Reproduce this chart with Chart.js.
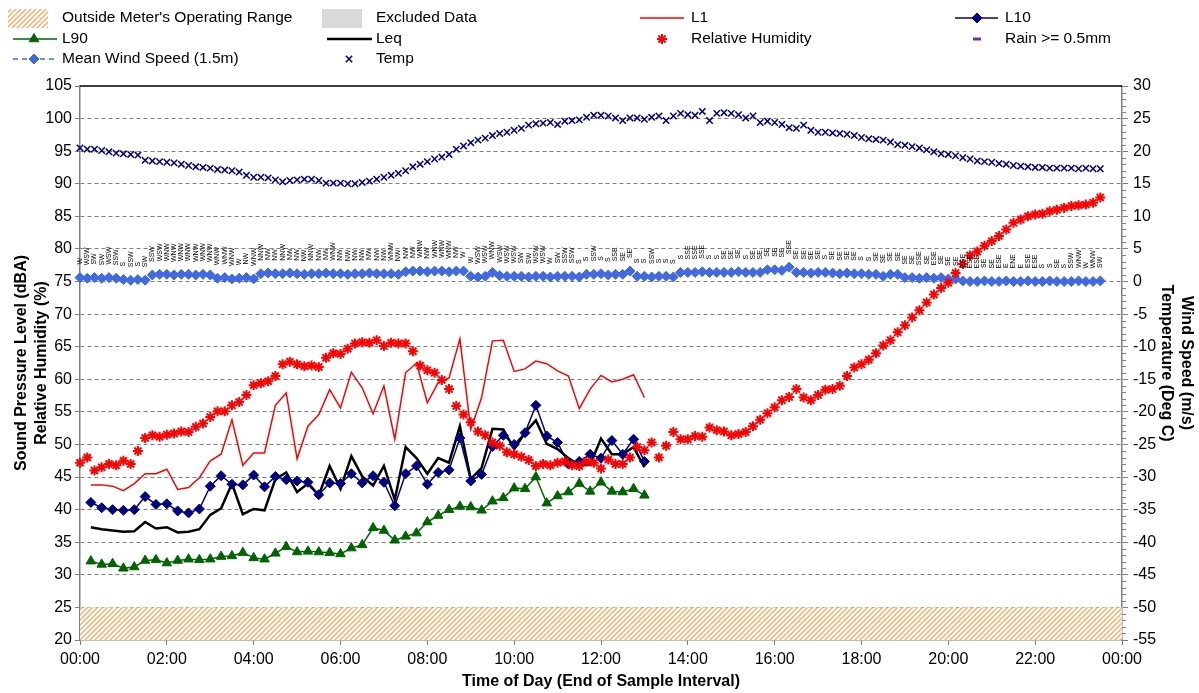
<!DOCTYPE html>
<html>
<head>
<meta charset="utf-8">
<script src="https://cdn.jsdelivr.net/npm/chart.js@4.4.1/dist/chart.umd.min.js"></script>
<style>
  html, body { margin: 0; padding: 0; background: #fff; }
  #wrap { width: 1199px; height: 693px; }
</style>
</head>
<body>
<div id="wrap"><canvas id="grafico" width="1199" height="693"></canvas></div>
<script>
// x axis is minutes since midnight
const timeTicks = ['00:00', '02:00', '04:00', '06:00', '08:00', '10:00', '12:00',
                   '14:00', '16:00', '18:00', '20:00', '22:00', '00:00'];

// noise levels, 15 min samples from 00:15 to 13:00 (dBA)
const noiseStart = 15, noiseStep = 15;
const l1 = [43.8, 43.8, 43.6, 42.9, 44.0, 45.5, 45.5, 46.2, 43.1, 43.4, 44.9, 47.5,
            48.5, 53.8, 46.8, 48.7, 48.7, 56.0, 57.9, 47.8, 52.8, 54.6, 58.4, 55.6,
            61.1, 58.7, 54.7, 59.0, 50.8, 61.0, 62.5, 56.4, 59.5, 60.2, 66.2, 52.3,
            57.2, 65.9, 66.0, 61.2, 61.6, 62.8, 62.4, 61.3, 60.5, 55.5, 58.5, 60.6,
            59.6, 60.0, 60.7, 57.2];
const l10 = [41.1, 40.3, 40.0, 39.9, 40.0, 42.0, 40.8, 40.9, 39.8, 39.5, 40.1, 43.6,
             45.2, 43.9, 43.8, 45.3, 43.5, 45.1, 44.6, 44.4, 44.2, 42.3, 44.1, 44.0,
             45.5, 44.1, 45.2, 44.2, 40.6, 45.5, 46.7, 43.9, 45.7, 46.1, 51.0, 44.4,
             45.4, 49.7, 51.4, 50.0, 51.8, 56.0, 51.3, 50.3, 47.0, 47.4, 48.5, 47.9,
             50.6, 48.5, 50.8, 47.4];
const leq = [37.3, 37.0, 36.8, 36.6, 36.7, 38.1, 37.1, 37.3, 36.5, 36.6, 37.0, 39.2,
             40.2, 44.0, 39.3, 40.1, 39.9, 44.7, 45.7, 42.7, 44.0, 42.2, 46.7, 43.2,
             48.2, 45.1, 43.7, 46.7, 41.5, 49.6, 47.9, 45.5, 47.9, 47.2, 52.8, 44.7,
             46.4, 52.4, 52.3, 49.3, 51.8, 53.7, 50.1, 49.3, 47.9, 46.8, 46.9, 50.9,
             48.5, 48.5, 49.6, 46.5];
const l90 = [32.1, 31.6, 31.7, 31.0, 31.2, 32.2, 32.3, 31.8, 32.2, 32.4, 32.3, 32.4,
             32.8, 32.9, 33.4, 32.6, 32.4, 33.3, 34.3, 33.5, 33.6, 33.5, 33.4, 33.2,
             34.1, 34.6, 37.2, 36.8, 35.3, 35.9, 36.4, 38.1, 39.1, 40.0, 40.5, 40.4,
             39.9, 41.3, 41.8, 43.3, 43.2, 45.0, 41.0, 42.1, 42.7, 44.0, 42.8, 44.2,
             42.8, 42.7, 43.2, 42.2];

// weather, 10 min samples from 00:00 to 23:30
const envStart = 0, envStep = 10;
const humidity = [
  47.2, 48.0, 46.0, 46.5, 47.0, 46.8, 47.5, 47.0, 49.0, 51.0, 51.4, 51.2,
  51.5, 51.7, 52.0, 51.9, 52.7, 53.2, 54.2, 55.1, 55.1, 56.0, 56.5, 57.6,
  59.1, 59.4, 59.7, 60.5, 62.3, 62.7, 62.3, 62.0, 62.1, 61.9, 63.3, 64.0,
  63.9, 64.7, 65.5, 65.7, 65.6, 66.0, 65.1, 65.6, 65.5, 65.5, 64.3, 62.1,
  61.4, 61.0, 59.9, 58.5, 55.9, 54.6, 53.4, 52.0, 51.4, 50.3, 49.8, 48.8,
  48.5, 48.1, 47.6, 46.7, 47.0, 46.8, 47.2, 47.4, 46.8, 46.7, 47.4, 47.2,
  46.3, 47.7, 47.0, 47.0, 48.0, 49.6, 49.1, 50.3, 48.0, 49.8, 51.9, 50.8,
  50.8, 51.3, 51.2, 52.6, 52.2, 52.0, 51.4, 51.6, 51.9, 52.8, 53.8, 54.8,
  55.7, 56.8, 57.3, 58.5, 57.2, 56.8, 57.6, 58.4, 58.5, 59.0, 60.5, 61.8,
  62.3, 63.0, 64.0, 65.2, 66.0, 67.2, 68.3, 69.5, 70.6, 71.8, 73.0, 74.0,
  74.8, 76.3, 77.7, 79.0, 79.6, 80.5, 81.2, 82.0, 83.0, 84.0, 84.5, 85.0,
  85.3, 85.4, 85.8, 86.0, 86.3, 86.6, 86.7, 86.8, 87.1, 87.9];
const temperature = [
  20.5, 20.3, 20.3, 20.1, 19.9, 19.7, 19.6, 19.5, 19.4, 18.6, 18.5, 18.4,
  18.3, 18.2, 18.0, 17.8, 17.6, 17.5, 17.4, 17.2, 17.1, 17.0, 16.8, 16.3,
  16.0, 16.0, 15.9, 15.6, 15.3, 15.5, 15.6, 15.7, 15.7, 15.5, 15.1, 15.1,
  15.1, 15.0, 15.0, 15.2, 15.4, 15.7, 16.0, 16.3, 16.6, 17.0, 17.6, 18.0,
  18.4, 18.8, 19.1, 19.5, 20.3, 20.8, 21.3, 21.7, 22.0, 22.4, 22.7, 22.9,
  23.2, 23.5, 24.0, 24.2, 24.3, 24.4, 24.1, 24.6, 24.7, 24.8, 25.2, 25.5,
  25.5, 25.4, 25.1, 24.7, 25.1, 25.1, 24.9, 25.2, 25.4, 24.7, 25.4, 25.8,
  25.6, 25.5, 26.1, 24.7, 25.8, 25.9, 25.8, 25.6, 25.1, 25.4, 24.4, 24.6,
  24.4, 24.1, 23.6, 23.5, 24.0, 23.2, 22.9, 22.9, 22.8, 22.7, 22.6, 22.4,
  22.1, 21.9, 21.8, 21.7, 21.4, 21.0, 20.9, 20.7, 20.5, 20.2, 19.9, 19.6,
  19.5, 19.3, 19.0, 18.8, 18.5, 18.4, 18.3, 18.1, 18.0, 17.8, 17.7, 17.6,
  17.5, 17.5, 17.4, 17.4, 17.4, 17.4, 17.3, 17.4, 17.3, 17.3];
const windSpeed = [
  0.6, 0.5, 0.6, 0.5, 0.6, 0.5, 0.3, 0.2, 0.3, 0.2, 1.0, 1.1,
  1.1, 1.0, 1.1, 1.1, 1.0, 1.1, 1.0, 0.5, 0.6, 0.4, 0.5, 0.6,
  0.4, 1.2, 1.3, 1.2, 1.2, 1.3, 1.2, 1.1, 1.2, 1.2, 1.3, 1.2,
  1.2, 1.1, 1.2, 1.2, 1.3, 1.2, 1.2, 1.2, 1.1, 1.5, 1.6, 1.6,
  1.5, 1.6, 1.6, 1.5, 1.6, 1.6, 0.8, 0.7, 0.8, 1.4, 0.9, 0.8,
  0.8, 0.8, 0.7, 0.8, 0.8, 0.7, 0.8, 0.8, 0.8, 0.7, 1.1, 1.1,
  1.2, 1.0, 1.1, 1.1, 1.6, 0.8, 0.8, 0.7, 0.8, 0.8, 0.7, 1.4,
  1.4, 1.4, 1.5, 1.4, 1.4, 1.4, 1.4, 1.5, 1.4, 1.4, 1.4, 1.8,
  1.8, 1.7, 2.2, 1.4, 1.4, 1.3, 1.4, 1.4, 1.3, 1.2, 1.3, 1.2,
  1.2, 1.1, 1.1, 0.8, 1.1, 1.1, 0.6, 0.6, 0.5, 0.6, 0.5, 0.6,
  0.4, 0.4, 0.1, 0.0, 0.0, 0.1, 0.0, 0.0, 0.1, 0.0, 0.0, 0.1,
  0.0, 0.0, 0.1, 0.0, 0.0, 0.0, 0.1, 0.0, 0.0, 0.1];
const windDir = [
  'W', 'WSW', 'SW', 'SW', 'WSW', 'SSW', 'S', 'SSW', 'S', 'SW', 'SSW', 'WSW',
  'WNW', 'WNW', 'WNW', 'WNW', 'WNW', 'WNW', 'WNW', 'WNW', 'WNW', 'WNW', 'W', 'NW',
  'WNW', 'NNW', 'NW', 'NW', 'NNW', 'NW', 'NW', 'NW', 'NNW', 'NW', 'NW', 'WNW',
  'NW', 'NW', 'NW', 'NW', 'NW', 'NW', 'NW', 'WNW', 'NW', 'NW', 'NW', 'WNW',
  'NW', 'WNW', 'WNW', 'WNW', 'NW', 'W', 'W', 'WSW', 'WSW', 'WNW', 'WSW', 'WSW',
  'WSW', 'SW', 'SW', 'WSW', 'WSW', 'W', 'SW', 'SSW', 'SSW', 'S', 'S', 'SSW',
  'S', 'S', 'SSE', 'SE', 'SE', 'S', 'S', 'SSW', 'S', 'S', 'S', 'S',
  'SSE', 'SSE', 'SSE', 'S', 'S', 'SE', 'SE', 'SE', 'S', 'SE', 'SE', 'SE',
  'SE', 'SE', 'SSE', 'SE', 'SE', 'SE', 'SE', 'S', 'SE', 'SE', 'SE', 'SE',
  'S', 'S', 'SE', 'SE', 'SE', 'SE', 'SE', 'SE', 'SSE', 'SE', 'ESE', 'SE',
  'SE', 'SE', 'ESE', 'ESE', 'ESE', 'SE', 'SE', 'ESE', 'E', 'ENE', 'E', 'ESE',
  'ESE', 'S', 'S', 'SE', 'S', 'SSW', 'WNW', 'W', 'WNW', 'SW'];

// lower limit of the meter
const meterFloor = 25;

const FONT = "'Liberation Sans', Arial, sans-serif";
Chart.defaults.font.family = FONT;
Chart.defaults.color = '#000';

const envPoints = arr => arr.map((v, i) => ({ x: envStart + i * envStep, y: v }));
const noisePoints = arr => arr.map((v, i) => ({ x: noiseStart + i * noiseStep, y: v }));

function makeHatch(ctx) {
    const c = document.createElement('canvas');
    c.width = 5; c.height = 5;
    const p = c.getContext('2d');
    p.fillStyle = '#fff';
    p.fillRect(0, 0, 5, 5);
    p.strokeStyle = '#F5A860';
    p.lineWidth = 1.3;
    p.beginPath();
    p.moveTo(-1, 6); p.lineTo(6, -1);
    p.moveTo(-1, 1); p.lineTo(1, -1);
    p.moveTo(4, 6); p.lineTo(6, 4);
    p.stroke();
    return ctx.createPattern(c, 'repeat');
}

const ctx = document.getElementById('grafico').getContext('2d');
const hatch = makeHatch(ctx);

// orange band below the meter's range
const bandPlugin = {
    id: 'band',
    beforeDatasetsDraw(chart) {
        const { ctx, chartArea } = chart;
        const y = chart.scales.y;
        const top = y.getPixelForValue(meterFloor);
        const bottom = y.getPixelForValue(y.min);
        ctx.save();
        ctx.fillStyle = hatch;
        ctx.fillRect(chartArea.left, top, chartArea.right - chartArea.left, bottom - top);
        ctx.restore();
    }
};

// wind direction text over each wind point + frame details
const extrasPlugin = {
    id: 'extras',
    afterDatasetsDraw(chart) {
        const { ctx, chartArea } = chart;
        const meta = chart.getDatasetMeta(2);
        ctx.save();
        ctx.font = '7px ' + FONT;
        ctx.fillStyle = '#000';
        ctx.textAlign = 'left';
        ctx.textBaseline = 'middle';
        meta.data.forEach((pt, i) => {
            ctx.save();
            ctx.translate(pt.x, pt.y - 13);
            ctx.rotate(-Math.PI / 2);
            ctx.fillText(windDir[i], 0, 0);
            ctx.restore();
        });
        ctx.restore();

        // top border
        ctx.save();
        ctx.strokeStyle = '#000';
        ctx.lineWidth = 1.5;
        ctx.beginPath();
        ctx.moveTo(chartArea.left, chartArea.top);
        ctx.lineTo(chartArea.right, chartArea.top);
        ctx.stroke();

        // minor ticks on right axis
        const s = chart.scales.y2;
        ctx.strokeStyle = '#808080';
        ctx.lineWidth = 1;
        ctx.beginPath();
        for (let v = s.min; v <= s.max; v++) {
            if (v % 5 === 0) continue;
            const py = Math.round(s.getPixelForValue(v)) + 0.5;
            ctx.moveTo(s.left, py);
            ctx.lineTo(s.left + 4, py);
        }
        ctx.stroke();
        ctx.restore();
    }
};

// legend laid out in four fixed columns
const legendPlugin = {
    id: 'legendGrid',
    afterDraw(chart) {
        const ctx = chart.ctx;
        const H = Chart.helpers;
        ctx.save();
        ctx.font = '15.5px ' + FONT;
        ctx.textBaseline = 'middle';
        ctx.textAlign = 'left';
        const text = (t, x, y) => { ctx.fillStyle = '#000'; ctx.fillText(t, x, y); };
        const seg = (x1, x2, y, color, w, dash) => {
            ctx.save();
            ctx.strokeStyle = color;
            ctx.lineWidth = w;
            ctx.setLineDash(dash || []);
            ctx.beginPath();
            ctx.moveTo(x1, y);
            ctx.lineTo(x2, y);
            ctx.stroke();
            ctx.restore();
        };
        const mark = (style, x, y, color, r, bw) => {
            ctx.save();
            ctx.fillStyle = color;
            ctx.strokeStyle = color;
            ctx.lineWidth = bw;
            H.drawPoint(ctx, { pointStyle: style, radius: r, borderWidth: bw, rotation: 0 }, x, y);
            ctx.restore();
        };

        const r1 = 18, r2 = 39, r3 = 59;
        ctx.fillStyle = hatch;
        ctx.fillRect(8, 9, 40, 19);
        text("Outside Meter's Operating Range", 62, r1);
        ctx.fillStyle = '#D9D9D9';
        ctx.fillRect(322, 9, 40, 19);
        text('Excluded Data', 376, r1);
        seg(640, 684, r1, '#FF0000', 1.5);
        text('L1', 691, r1);
        seg(955, 998, r1, '#000080', 1.5);
        mark('rectRot', 977, r1, '#000080', 5, 1);
        text('L10', 1005, r1);

        seg(13, 57, r2, '#006400', 1.5);
        mark('triangle', 34, r2, '#006400', 5.5, 1);
        text('L90', 62, r2);
        seg(327, 372, r2, '#000', 2.5);
        text('Leq', 376, r2);
        mark('star', 662, r2, '#FF0000', 5, 2);
        text('Relative Humidity', 691, r2);
        seg(973, 981, r2, '#7030A0', 3);
        text('Rain >= 0.5mm', 1005, r2);

        seg(13, 54, r3, '#4169E1', 1.5, [5, 4]);
        mark('rectRot', 34, r3, '#4169E1', 5, 1);
        text('Mean Wind Speed (1.5m)', 62, r3);
        mark('crossRot', 349, r3, '#000080', 4.5, 1.5);
        text('Temp', 376, r3);
        ctx.restore();
    }
};

new Chart(ctx, {
    type: 'line',
    data: {
        datasets: [
            {
                label: 'Temp',
                data: envPoints(temperature),
                yAxisID: 'y2',
                showLine: false,
                pointStyle: 'crossRot',
                pointRadius: 4.5,
                pointBorderWidth: 1.5,
                pointBorderColor: '#000080',
                borderColor: '#000080',
                clip: false
            },
            {
                label: 'Relative Humidity',
                data: envPoints(humidity),
                yAxisID: 'y',
                showLine: false,
                pointStyle: 'star',
                pointRadius: 5,
                pointBorderWidth: 2,
                pointBorderColor: '#FF0000',
                borderColor: '#FF0000',
                clip: false
            },
            {
                label: 'Mean Wind Speed (1.5m)',
                data: envPoints(windSpeed),
                yAxisID: 'y2',
                borderColor: '#4169E1',
                borderWidth: 1.5,
                borderDash: [5, 4],
                pointStyle: 'rectRot',
                pointRadius: 5,
                pointBorderWidth: 1,
                pointBackgroundColor: '#4169E1',
                pointBorderColor: '#4169E1',
                clip: false
            },
            {
                label: 'L10',
                data: noisePoints(l10),
                yAxisID: 'y',
                borderColor: '#000080',
                borderWidth: 1.5,
                pointStyle: 'rectRot',
                pointRadius: 5,
                pointBorderWidth: 1,
                pointBackgroundColor: '#000080',
                pointBorderColor: '#000080'
            },
            {
                label: 'Leq',
                data: noisePoints(leq),
                yAxisID: 'y',
                borderColor: '#000',
                borderWidth: 2.5,
                pointRadius: 0
            },
            {
                label: 'L90',
                data: noisePoints(l90),
                yAxisID: 'y',
                borderColor: '#006400',
                borderWidth: 1.5,
                pointStyle: 'triangle',
                pointRadius: 5.5,
                pointBorderWidth: 1,
                pointBackgroundColor: '#006400',
                pointBorderColor: '#006400'
            },
            {
                label: 'L1',
                data: noisePoints(l1),
                yAxisID: 'y',
                borderColor: '#FF0000',
                borderWidth: 1.5,
                pointRadius: 0
            }
        ]
    },
    options: {
        responsive: false,
        animation: false,
        layout: { padding: { top: 86, left: 0, right: 0, bottom: 0 } },
        elements: { line: { tension: 0 } },
        plugins: {
            legend: { display: false },
            tooltip: { enabled: false }
        },
        scales: {
            x: {
                type: 'linear',
                min: 0,
                max: 1440,
                afterFit: s => { s.height = 53; },
                ticks: {
                    stepSize: 120,
                    padding: 5,
                    maxRotation: 0,
                    font: { size: 16 },
                    color: '#000',
                    callback: v => timeTicks[v / 120]
                },
                grid: {
                    display: true,
                    drawOnChartArea: false,
                    drawTicks: true,
                    tickLength: 5,
                    color: '#808080'
                },
                border: { color: '#808080', width: 1.5 },
                title: {
                    display: true,
                    text: 'Time of Day (End of Sample Interval)',
                    color: '#000',
                    font: { size: 16, weight: 'bold' },
                    padding: { top: 0, bottom: 2 }
                }
            },
            y: {
                position: 'left',
                min: 20,
                max: 105,
                afterFit: s => { s.width = 80; },
                ticks: {
                    stepSize: 5,
                    padding: 3,
                    font: { size: 16 },
                    color: '#000'
                },
                grid: {
                    color: c => (c.tick && (c.tick.value === 105 || c.tick.value === 20)) ? 'rgba(0,0,0,0)' : '#808080',
                    tickColor: '#808080',
                    tickLength: 5,
                    tickBorderDash: [],
                    lineWidth: 1
                },
                border: { color: '#808080', width: 1.5, dash: [4, 3] },
                title: {
                    display: true,
                    text: ['Sound Pressure Level (dBA)', 'Relative Humidity (%)'],
                    color: '#000',
                    font: { size: 16, weight: 'bold', lineHeight: 1.25 },
                    padding: { top: 12, bottom: 0 }
                }
            },
            y2: {
                position: 'right',
                min: -55,
                max: 30,
                afterFit: s => { s.width = 77; },
                ticks: {
                    stepSize: 5,
                    padding: 5,
                    font: { size: 16 },
                    color: '#000'
                },
                grid: {
                    drawOnChartArea: false,
                    tickLength: 6,
                    color: '#808080',
                    tickBorderDash: []
                },
                border: { color: '#808080', width: 1.5 },
                title: {
                    display: true,
                    text: ['Wind Speed (m/s)', 'Temperature (Deg C)'],
                    color: '#000',
                    font: { size: 16, weight: 'bold', lineHeight: 1.25 },
                    padding: { top: 3, bottom: 0 }
                }
            }
        }
    },
    plugins: [bandPlugin, extrasPlugin, legendPlugin]
});
</script>
</body>
</html>
